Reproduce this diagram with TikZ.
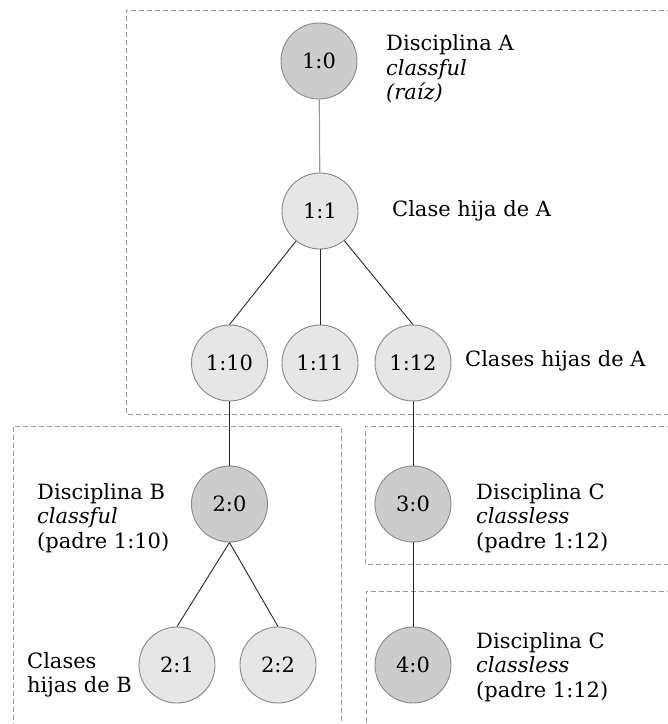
\documentclass[tikz,border=0pt]{standalone}
\usepackage{fontspec}
\setmainfont{DejaVu Serif}
\definecolor{darkfill}{HTML}{CCCCCC}
\definecolor{lightfill}{HTML}{E6E6E6}
\definecolor{rim}{HTML}{888888}
\definecolor{frame}{HTML}{999999}
\begin{document}
\begin{tikzpicture}[x=1pt,y=-1pt,
  every node/.style={font=\fontsize{21}{24.5}\selectfont},
  disc/.style={circle,draw=rim,line width=0.9pt,fill=darkfill,minimum size=76pt,inner sep=0pt},
  cls/.style={disc,fill=lightfill},
  edge/.style={draw=black!85,line width=0.9pt},
  softedge/.style={draw=black!40,line width=1.2pt},
  groupbox/.style={draw=frame,line width=0.9pt,dash pattern=on 5pt off 3pt},
  note/.style={anchor=west,align=left,inner sep=0pt}]
\useasboundingbox (0,0) rectangle (668,724);
\clip (0,0) rectangle (668,724);

% group frames
\draw[groupbox] (672,10) -- (126,10) -- (126,414) -- (672,414);
\draw[groupbox] (13,728) -- (13,426) -- (341,426) -- (341,728);
\draw[groupbox] (672,426) -- (365,426) -- (365,564) -- (672,564);
\draw[groupbox] (672,591) -- (366,591) -- (366,728);

% nodes
\node[disc] (n10)  at (319,61)  {1:0};
\node[cls]  (n11)  at (320,211) {1:1};
\node[cls]  (n110) at (229.5,363) {1:10};
\node[cls]  (n111) at (320,363) {1:11};
\node[cls]  (n112) at (413,363) {1:12};
\node[disc] (n20)  at (229.5,504) {2:0};
\node[cls]  (n21)  at (177,665) {2:1};
\node[cls]  (n22)  at (278,665) {2:2};
\node[disc] (n30)  at (413,504) {3:0};
\node[disc] (n40)  at (413,665) {4:0};

% connectors
\draw[softedge] (n10) -- (n11);
\draw[edge] (n11) -- (n110.north);
\draw[edge] (n11) -- (n111);
\draw[edge] (n11) -- (n112.north);
\draw[edge] (n110) -- (n20);
\draw[edge] (n20.south) -- (n21.north);
\draw[edge] (n20.south) -- (n22.north);
\draw[edge] (n112) -- (n30);
\draw[edge] (n30) -- (n40);

% labels
\node[note] (tA)  at (386,69)  {Disciplina A\\\textit{classful}\\\textit{(raíz)}};
\node[note] (t11) at (392,211) {Clase hija de A};
\node[note] (t1x) at (465,361) {Clases hijas de A};
\node[note] (tB)  at (37,518)  {Disciplina B\\\textit{classful}\\(padre 1:10)};
\node[note] (t2x) at (27,675)  {Clases\\hijas de B};
\node[note] (tC1) at (476,518) {Disciplina C\\\textit{classless}\\(padre 1:12)};
\node[note] (tC2) at (476,667) {Disciplina C\\\textit{classless}\\(padre 1:12)};
\end{tikzpicture}
\end{document}
